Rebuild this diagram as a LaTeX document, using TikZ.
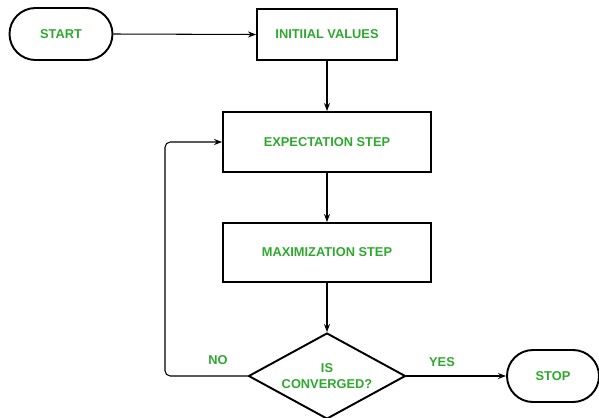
\documentclass[tikz,border=0pt]{standalone}
\usepackage{fontspec}
\setmainfont{Liberation Sans}
\usetikzlibrary{positioning, arrows.meta, shapes.geometric}
\definecolor{labelgreen}{RGB}{46,168,46}

\begin{document}
\begin{tikzpicture}[
    termbox/.style={rectangle, draw=black, line width=1.1pt, rounded corners=0.52cm,
                    minimum width=2.06cm, minimum height=1.04cm, font=\fontsize{7.3}{9}\selectfont\bfseries, text=labelgreen},
    stepbox/.style={rectangle, draw=black, line width=1.1pt,
                    minimum width=4.16cm, minimum height=1.2cm, font=\fontsize{7.3}{9}\selectfont\bfseries, text=labelgreen},
    testbox/.style={diamond, draw=black, line width=1.1pt, aspect=1.83, inner sep=0pt,
                    minimum width=3.14cm, minimum height=1.72cm, align=center,
                    font=\fontsize{7.3}{9}\selectfont\bfseries, text=labelgreen},
    lbl/.style={font=\fontsize{7.3}{9}\selectfont\bfseries, text=labelgreen},
    arrow/.style={-{Stealth[length=1.6mm, width=1.2mm]}, line width=0.6pt}
]
    \useasboundingbox (0,0) rectangle (11.98,-8.34);

    % Start and initial values
    \node[termbox] (start) at (1.22, -0.68) {START};
    \node[stepbox, minimum width=2.8cm, minimum height=1.02cm] (init) at (6.54, -0.69) {INITIIAL VALUES};

    % E step and M step
    \node[stepbox] (estep) at (6.54, -2.84) {EXPECTATION STEP};
    \node[stepbox, minimum height=1.18cm] (mstep) at (6.54, -5.05) {MAXIMIZATION STEP};

    % Convergence test
    \node[testbox] (conv) at (6.54, -7.52) {IS\\CONVERGED?};
    \node[termbox, minimum width=1.84cm] (stop) at (11.06, -7.52) {STOP};

    % Labels
    \node[lbl] (no) at (4.36, -7.2) {NO};
    \node[lbl] (yes) at (8.84, -7.24) {YES};

    % Arrows
    \coordinate (loop) at (3.3, -7.52);
    \draw[arrow] (start.east) -- (init.west);
    \draw[arrow] (init.south) -- (estep.north);
    \draw[arrow] (estep.south) -- (mstep.north);
    \draw[arrow] (mstep.south) -- (conv.north);
    \draw[arrow] (conv.east) -- (stop.west);
    \draw[arrow, rounded corners=3pt] (conv.west) -- (loop) |- (estep.west);

\end{tikzpicture}
\end{document}
